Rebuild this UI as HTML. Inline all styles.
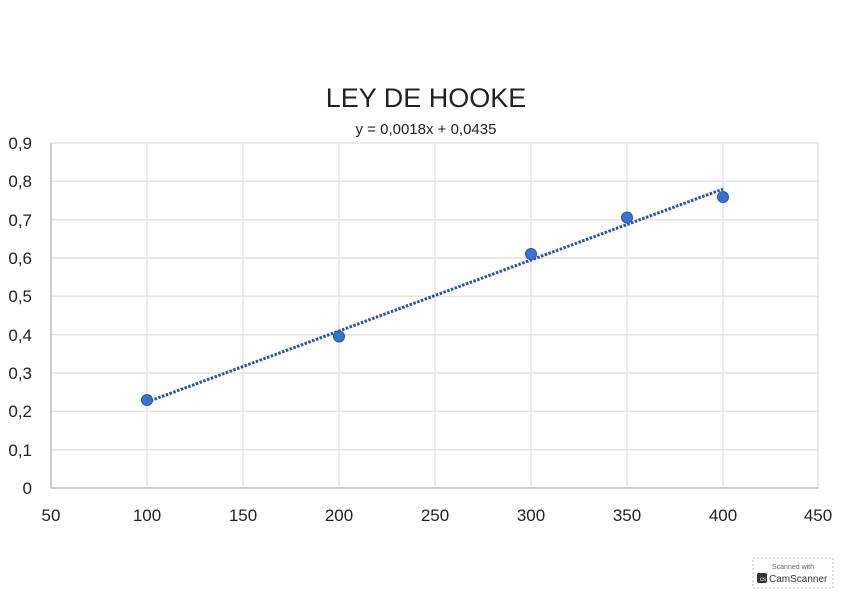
<!DOCTYPE html>
<html><head><meta charset="utf-8"><style>
body{margin:0;background:#fff;width:848px;height:599px;overflow:hidden;font-family:"Liberation Sans",sans-serif}
</style></head><body>
<svg width="848" height="599" xmlns="http://www.w3.org/2000/svg" font-family="Liberation Sans, sans-serif">
<rect width="848" height="599" fill="#fff"/>
<text x="426" y="107" text-anchor="middle" font-size="27" fill="#222">LEY DE HOOKE</text>
<text x="426" y="134" text-anchor="middle" font-size="15" fill="#222">y = 0,0018x + 0,0435</text>
<g stroke="#e4e4e4" stroke-width="1.5">
<line x1="51" y1="143" x2="818" y2="143"/><line x1="51" y1="181.3" x2="818" y2="181.3"/>
<line x1="51" y1="219.7" x2="818" y2="219.7"/><line x1="51" y1="258" x2="818" y2="258"/>
<line x1="51" y1="296.3" x2="818" y2="296.3"/><line x1="51" y1="334.7" x2="818" y2="334.7"/>
<line x1="51" y1="373" x2="818" y2="373"/><line x1="51" y1="411.3" x2="818" y2="411.3"/>
<line x1="51" y1="449.7" x2="818" y2="449.7"/>
<line x1="147" y1="143" x2="147" y2="488"/><line x1="243" y1="143" x2="243" y2="488"/>
<line x1="339" y1="143" x2="339" y2="488"/><line x1="435" y1="143" x2="435" y2="488"/>
<line x1="531" y1="143" x2="531" y2="488"/><line x1="627" y1="143" x2="627" y2="488"/>
<line x1="723" y1="143" x2="723" y2="488"/><line x1="818" y1="143" x2="818" y2="488"/>
</g>
<line x1="51" y1="143" x2="51" y2="488" stroke="#ccc" stroke-width="2"/>
<line x1="51" y1="488" x2="818" y2="488" stroke="#ccc" stroke-width="2"/>
<g font-size="17" fill="#222" text-anchor="end">
<text x="32" y="149">0,9</text><text x="32" y="187">0,8</text><text x="32" y="226">0,7</text>
<text x="32" y="264">0,6</text><text x="32" y="302">0,5</text><text x="32" y="341">0,4</text>
<text x="32" y="379">0,3</text><text x="32" y="417">0,2</text><text x="32" y="456">0,1</text>
<text x="32" y="494">0</text>
</g>
<g font-size="17" fill="#222" text-anchor="middle">
<text x="51" y="521">50</text><text x="147" y="521">100</text><text x="243" y="521">150</text>
<text x="339" y="521">200</text><text x="435" y="521">250</text><text x="531" y="521">300</text>
<text x="627" y="521">350</text><text x="723" y="521">400</text><text x="818" y="521">450</text>
</g>
<line x1="147" y1="402" x2="723" y2="189" stroke="#2b4fae" stroke-width="3" stroke-dasharray="2.5,1.5"/>
<g fill="#3a72d0" stroke="#2a55a8" stroke-width="1">
<circle cx="147" cy="400" r="5.5"/><circle cx="339" cy="336.5" r="5.5"/>
<circle cx="531" cy="254" r="5.5"/><circle cx="627" cy="217.5" r="5.5"/>
<circle cx="723" cy="197" r="5.5"/>
</g>
<rect x="753" y="558" width="80" height="30" fill="#fff" stroke="#bbb" stroke-dasharray="2,2"/>
<text x="793" y="569" text-anchor="middle" font-size="7" fill="#666">Scanned with</text>
<rect x="757" y="573" width="10" height="10" rx="2" fill="#333"/>
<text x="760" y="581" font-size="6" fill="#fff">cs</text>
<text x="769" y="582" font-size="10" fill="#333">CamScanner</text>
</svg>
</body></html>
